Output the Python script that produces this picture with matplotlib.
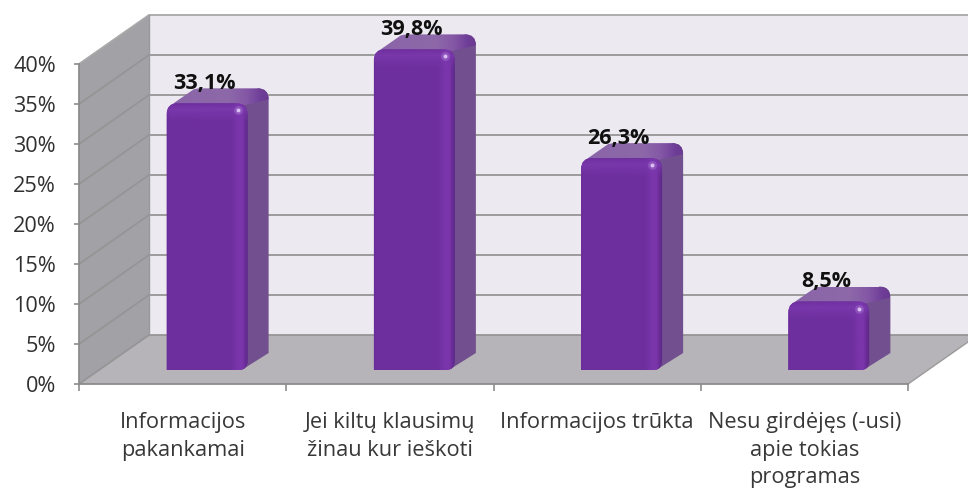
import numpy as np
import matplotlib
matplotlib.use("Agg")
import matplotlib.pyplot as plt
from matplotlib.path import Path
from matplotlib.patches import PathPatch, Polygon

categories = ["Informacijos\npakankamai", "Jei kiltų klausimų\nžinau kur ieškoti",
              "Informacijos trūkta", "Nesu girdėjęs (-usi)\napie tokias\nprogramas"]
values = [33.1, 39.8, 26.3, 8.5]
value_labels = ["33,1%", "39,8%", "26,3%", "8,5%"]
y_ticks = [0, 5, 10, 15, 20, 25, 30, 35, 40]
y_ticklabels = ["0%", "5%", "10%", "15%", "20%", "25%", "30%", "35%", "40%"]

W, H = 968, 488
L, R, B, T = 79, 908, 384, 64
FONT = "Open Sans"
plt.rcParams["font.family"] = [FONT, "DejaVu Sans"]

fig = plt.figure(figsize=(W / 100, H / 100), dpi=100)
ax = fig.add_axes([L / W, 1 - B / H, (R - L) / W, (B - T) / H])
ax.patch.set_alpha(0)
ax.set_xlim(0, 4)
ax.set_ylim(0, 40)
px = 4 / (R - L)      # data units per pixel, x
py = 40 / (B - T)     # data units per pixel, y
DX, DY = 70 * px, 49 * py   # chart depth


def poly(pts, color, z, **kw):
    p = Polygon(pts, closed=True, facecolor=color, edgecolor="none", zorder=z, clip_on=False, **kw)
    ax.add_patch(p)
    return p


def grad(clip, extent, stops_x, colors, z):
    """Horizontal colour ramp clipped to a patch."""
    u = np.linspace(0, 1, 256)
    cols = np.array([matplotlib.colors.to_rgb(c) for c in colors])
    img = np.stack([np.interp(u, stops_x, cols[:, k]) for k in range(3)], axis=-1)[None, :, :]
    im = ax.imshow(img, extent=extent, aspect="auto", zorder=z, interpolation="bilinear")
    im.set_clip_box(fig.bbox)
    im.set_clip_path(clip)
    return im


# walls and floor
wall = poly([(DX, DY), (4 + DX, DY), (4 + DX, 40 + DY), (DX, 40 + DY)], "#ecEAf0", 1)
left = poly([(0, 0), (DX, DY), (DX, 40 + DY), (0, 40)], "#a2a1a5", 1)
poly([(0, 0), (4, 0), (4 + DX, DY), (DX, DY)], "#b6b4b8", 1.2)

grid_c = "#959595"
for v in y_ticks:
    c = "#a8a8a8" if v == 40 else grid_c
    ax.plot([0, DX, 4 + DX], [v, v + DY, v + DY], color=c, lw=1.3, zorder=1.5, clip_on=False,
            solid_joinstyle="miter")
ax.plot([DX, DX], [DY, 40 + DY], color="#9a9a9a", lw=1.0, zorder=1.5, clip_on=False)
ax.plot([4, 4 + DX], [0, DY], color="#9a9a9a", lw=1.0, zorder=1.5, clip_on=False)


def rounded(x0, x1, y0, y1, rt, rb):
    rx_t, ry_t = rt * px, rt * py
    rx_b, ry_b = rb * px, rb * py
    verts = [(x0, y0 + ry_b / 3), (x0, y1 - ry_t), (x0, y1), (x0 + rx_t, y1),
             (x1 - rx_t, y1), (x1, y1), (x1, y1 - ry_t),
             (x1, y0 + ry_b), (x1, y0), (x1 - rx_b, y0), (x0 + 3 * px, y0), (x0, y0)]
    codes = [Path.MOVETO, Path.LINETO, Path.CURVE3, Path.CURVE3,
             Path.LINETO, Path.CURVE3, Path.CURVE3,
             Path.LINETO, Path.CURVE3, Path.CURVE3, Path.LINETO, Path.LINETO]
    return Path(verts, codes)


# bars
bar_w = 81 * px
bar_shift = 24.5 * px
bar_base = 14 * py
bar_scale = 1.007
bx, by = 21 * px, 15 * py
label_dx = -3
for i, v in enumerate(values):
    xc = i + 0.5 + bar_shift
    x0, x1 = xc - bar_w / 2, xc + bar_w / 2
    h = v * bar_scale
    y0, y1 = bar_base, bar_base + h
    r = 11
    # side face
    side_path = Path(
        [(x1 - 6 * px, y0), (x1 + bx, y0 + by + 2 * py), (x1 + bx, y1 + by - r * py), (x1 + bx, y1 + by),
         (x1 + bx - r * px, y1 + by), (x1 - r * px, y1), (x1 - 6 * px, y0)],
        [Path.MOVETO, Path.LINETO, Path.LINETO, Path.CURVE3, Path.CURVE3, Path.LINETO, Path.CLOSEPOLY])
    sp = PathPatch(side_path, facecolor="#72508f", edgecolor="none", zorder=3, clip_on=False)
    ax.add_patch(sp)
    # top face
    top_path = Path(
        [(x0 + 4 * px, y1 - 2 * py), (x0 + bx + 6 * px, y1 + by - 1 * py), (x0 + bx + r * px, y1 + by),
         (x1 + bx - r * px, y1 + by), (x1 + bx, y1 + by), (x1 + bx, y1 + by - r * py),
         (x1 - 4 * px, y1 - 2 * py), (x0 + 4 * px, y1 - 2 * py)],
        [Path.MOVETO, Path.LINETO, Path.LINETO, Path.LINETO, Path.CURVE3, Path.CURVE3, Path.LINETO, Path.CLOSEPOLY])
    tp = PathPatch(top_path, facecolor="none", edgecolor="none", zorder=3.1, clip_on=False)
    ax.add_patch(tp)
    grad(tp, (x0, x1 + bx, y1 - 2 * py, y1 + by), [0, 0.6, 0.78, 0.92, 1],
         ["#8a64a8", "#8d69a9", "#8558a6", "#6f3f98", "#6a3a92"], 3.1)
    # front face with bevel shading
    fp = PathPatch(rounded(x0, x1, y0, y1, r, 9), facecolor="#6e2f9e", edgecolor="none", zorder=4, clip_on=False)
    ax.add_patch(fp)
    u = np.linspace(0, 1, 200)
    n = max(int(round(h / py)), 20)
    yy = np.linspace(0, h / py, n)
    base_stops = [0, 0.02, 0.05, 0.8, 0.88, 0.93, 0.97, 1]
    c0 = np.array([matplotlib.colors.to_rgb(c) for c in
                   ["#6a2c97", "#6d2f9d", "#6e2f9e", "#6f309f", "#7a35ac", "#7a35ab", "#6a2d98", "#5e2a86"]])
    img = np.stack([np.interp(u, base_stops, c0[:, k]) for k in range(3)], axis=-1)
    img = np.repeat(img[None, :, :], n, axis=0)
    dist = (h / py - yy)[::-1]       # row 0 at the top of the bar
    band = np.interp(dist, [0, 2, 6, 12, 18], [0.0, 0.3, 0.8, 0.3, 0.0])[:, None, None]
    light = np.array(matplotlib.colors.to_rgb("#7c3aae"))[None, None, :]
    img = img * (1 - band) + light * band
    im = ax.imshow(img, extent=(x0, x1, y0, y1), aspect="auto", zorder=4.1, interpolation="bilinear")
    im.set_clip_box(fig.bbox)
    im.set_clip_path(fp)
    ax.scatter([x1 - 10 * px], [y1 - 7 * py], s=40, color="#a878d0", alpha=0.45, zorder=4.2, linewidths=0, clip_on=False)
    ax.scatter([x1 - 10 * px], [y1 - 7 * py], s=8, color="#dcc0f4", zorder=4.3, linewidths=0, clip_on=False)
    ax.annotate(value_labels[i], xy=(xc, y1), xytext=(label_dx, 9.5), textcoords="offset pixels",
                ha="center", va="bottom", fontsize=15.5, fontweight="bold", color="#101010",
                zorder=6, annotation_clip=False, family=[FONT, "DejaVu Sans"])

ax.set_xlim(0, 4)
ax.set_ylim(0, 40)

# axes
for s in ("top", "right"):
    ax.spines[s].set_visible(False)
for s in ("left", "bottom"):
    ax.spines[s].set_color("#8c8c8c")
    ax.spines[s].set_linewidth(1.3)
    ax.spines[s].set_zorder(5)
ax.set_yticks(y_ticks)
ax.set_yticklabels(y_ticklabels, fontsize=15.6, color="#303030")
ax.tick_params(axis="y", length=3.6, width=1.2, color="#8c8c8c", pad=13)
ax.set_xticks(range(5))
ax.set_xticklabels([""] * 5)
ax.tick_params(axis="x", which="major", length=5, width=1.2, color="#8c8c8c")
ax.set_xticks([i + 0.5 for i in range(4)], minor=True)
ax.set_xticklabels(categories, minor=True, fontsize=15.7, color="#383838", linespacing=1.4)
ax.tick_params(axis="x", which="minor", length=0, pad=20.5)

fig.savefig("out.png", dpi=100)
